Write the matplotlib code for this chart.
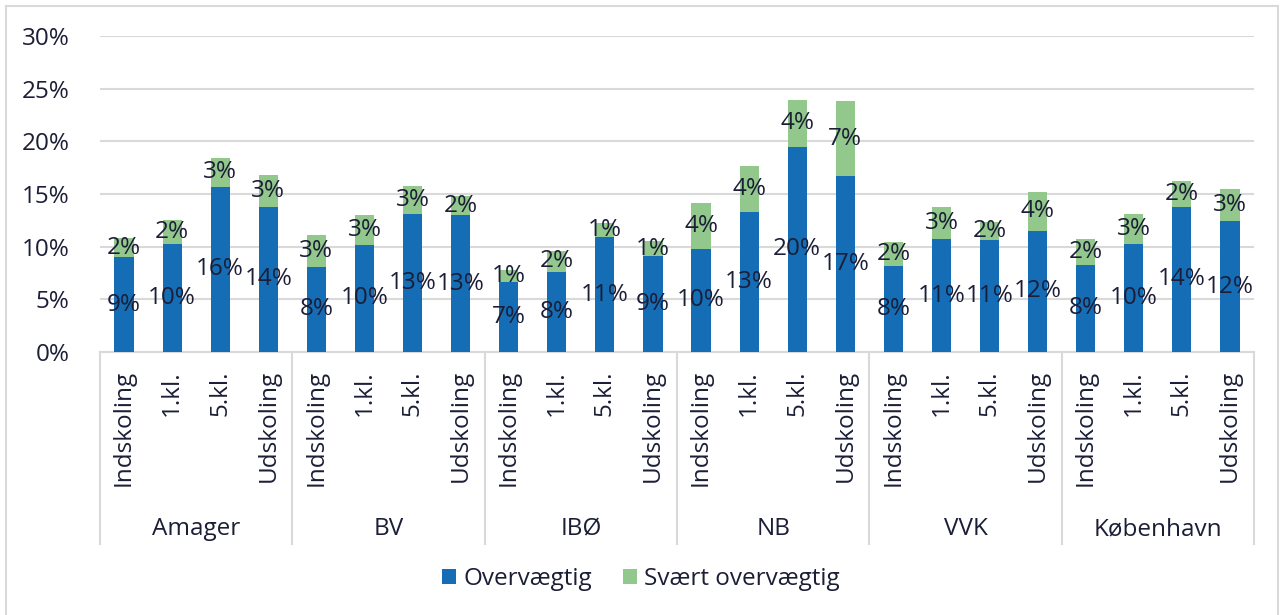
import matplotlib
matplotlib.use("Agg")
import matplotlib.pyplot as plt
from matplotlib.patches import Rectangle
from matplotlib.lines import Line2D

groups = ["Amager", "BV", "IBØ", "NB", "VVK", "København"]
categories = ["Indskoling", "1.kl.", "5.kl.", "Udskoling"]
overvaegtig = [
    9.0, 10.3, 15.7, 13.8,
    8.1, 10.2, 13.1, 13.0,
    6.6, 7.6, 10.9, 9.1,
    9.8, 13.3, 19.5, 16.7,
    8.2, 10.7, 10.6, 11.5,
    8.3, 10.3, 13.8, 12.4,
]
svaert = [
    1.8, 2.2, 2.7, 3.0,
    3.0, 2.8, 2.7, 1.8,
    1.2, 2.0, 1.3, 1.4,
    4.3, 4.4, 4.4, 7.1,
    2.2, 3.1, 1.7, 3.7,
    2.4, 2.8, 2.4, 3.1,
]
yticks = [0, 5, 10, 15, 20, 25, 30]

plt.rcParams['font.family'] = ['Open Sans', 'DejaVu Sans']
TXT = "#1b1e36"
BLUE = "#156db5"
GREEN = "#93c88d"
GRID = "#d9d9d9"
FS = 17.5

W, H = 1282, 615
fig = plt.figure(figsize=(W / 100, H / 100), dpi=100)
ax = fig.add_axes([100 / W, 1 - 352 / H, 1154 / W, (352 - 36) / H])

n = len(groups) * len(categories)
x = list(range(n))
b1 = ax.bar(x, overvaegtig, width=0.4, color=BLUE, zorder=3, label="Overvægtig")
b2 = ax.bar(x, svaert, width=0.4, bottom=overvaegtig, color=GREEN, zorder=3,
            label="Svært overvægtig")
ax.bar_label(b1, labels=[f"{v:.0f}%" for v in overvaegtig], label_type="center",
             fontsize=FS, color=TXT, zorder=4)
ax.bar_label(b2, labels=[f"{v:.0f}%" for v in svaert], label_type="center",
             fontsize=FS, color=TXT, zorder=4)

ax.set_xlim(-0.5, n - 0.5)
ax.set_ylim(0, 30)
ax.set_yticks(yticks)
ax.set_yticklabels([f"{t}%" for t in yticks], fontsize=FS, color=TXT)
ax.yaxis.grid(True, color=GRID, linewidth=1.5, zorder=0)
ax.set_axisbelow(True)
for s in ["left", "right", "top"]:
    ax.spines[s].set_visible(False)
ax.spines["bottom"].set_color(GRID)
ax.spines["bottom"].set_linewidth(1.5)
ax.tick_params(axis="y", length=0, pad=22)
ax.tick_params(axis="x", length=0, pad=13)
ax.set_xticks(x)
ax.set_xticklabels(categories * len(groups), rotation=90, fontsize=FS, color=TXT,
                   va="top", ha="center")

trans = ax.get_xaxis_transform()
y_bottom = -(544 - 352) / (352 - 36)
for g in range(len(groups) + 1):
    xpos = g * len(categories) - 0.5
    ax.add_line(Line2D([xpos, xpos], [0, y_bottom], transform=trans, color=GRID,
                       linewidth=1.5, clip_on=False))
y_group = -(529 - 352) / (352 - 36)
for g, name in enumerate(groups):
    xc = g * len(categories) + (len(categories) - 1) / 2
    ax.text(xc, y_group, name, transform=trans, ha="center", va="center",
            fontsize=FS, color=TXT)

leg = fig.legend(handles=[b1, b2], loc="center", bbox_to_anchor=(0.5, 1 - 579 / H),
                 ncol=2, frameon=False, fontsize=FS, handlelength=0.55,
                 handleheight=0.55, handletextpad=0.3, columnspacing=1.3)
for t in leg.get_texts():
    t.set_color(TXT)

fig.patches.append(Rectangle((6 / W, -0.1), (1278 - 6) / W, 1.1 - 6 / H,
                             transform=fig.transFigure, fill=False,
                             edgecolor=GRID, linewidth=1.5))

fig.savefig("out.png", dpi=100)
